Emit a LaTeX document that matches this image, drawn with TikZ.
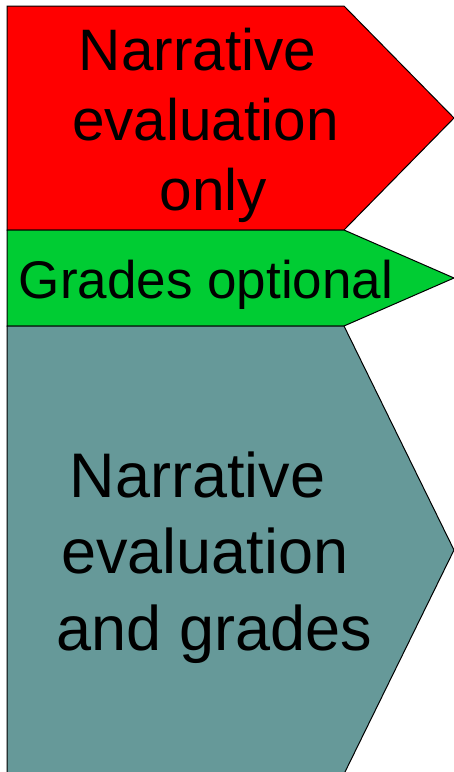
\documentclass[tikz,border=0pt]{standalone}
\usepackage{fontspec}
\setmainfont{Liberation Sans}
\definecolor{cred}{HTML}{FF0000}
\definecolor{cgreen}{HTML}{00CC33}
\definecolor{cteal}{HTML}{669999}
\begin{document}
\begin{tikzpicture}[x=1pt,y=-1pt,
  band/.style={draw=black,line width=1pt,line join=miter},
  bigtext/.style={anchor=base,inner sep=0pt,font=\fontsize{58.5}{70}\selectfont},
  hugetext/.style={anchor=base,inner sep=0pt,font=\fontsize{63}{76}\selectfont},
  midtext/.style={anchor=base,inner sep=0pt,font=\fontsize{53}{62}\selectfont}]
\useasboundingbox (0,0) rectangle (454,772);
\clip (0,0) rectangle (454,772);
% shapes
\path[band,fill=cred] (7,6) -- (344,6) -- (454,118) -- (344,230) -- (7,230) -- cycle;
\path[band,fill=cgreen] (7,230) -- (344,230) -- (454,278) -- (344,326) -- (7,326) -- cycle;
\path[band,fill=cteal] (7,326) -- (344,326) -- (454,550) -- (344,774) -- (7,774) -- cycle;
% texts
\node[bigtext] (r1) at (197.5,70) {Narrative};
\node[bigtext] (r2) at (205.5,140) {evaluation};
\node[bigtext] (r3) at (213.5,210) {only};
\node[midtext] (g1) at (206,298) {Grades optional};
\node[hugetext] (t1) at (197.5,497) {Narrative};
\node[hugetext] (t2) at (205,573) {evaluation};
\node[hugetext] (t3) at (214.5,650) {and grades};
\end{tikzpicture}
\end{document}
